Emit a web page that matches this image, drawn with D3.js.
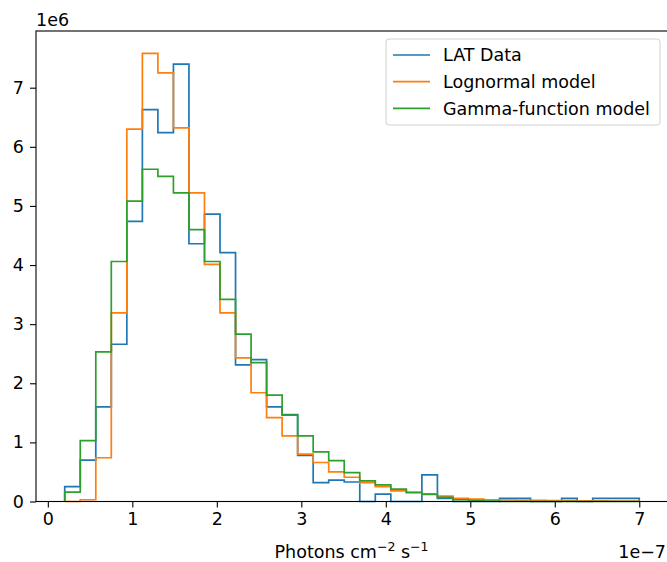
<!DOCTYPE html>
<html>
<head>
<meta charset="utf-8"/>
<title>Photon flux histogram</title>
<script src="https://cdn.jsdelivr.net/npm/d3@7"></script>
<style>
  body { margin: 0; background: #fff; }
  svg text { font-family: "DejaVu Sans", sans-serif; fill: #000; }
</style>
</head>
<body>
<div id="chart"></div>
<script>
// histogram bins, flux in units of 1e-7 photons cm^-2 s^-1
var binStart = 0.2, binEnd = 7.0, binCount = 37;
var binEdges = d3.range(binCount + 1).map(function(i) { return binStart + i * (binEnd - binStart) / binCount; });

// counts per bin, in units of 1e6
var latData = [0.25, 0.70, 1.60, 2.66, 4.74, 6.63, 6.24, 7.40, 4.36, 4.86,
               4.21, 2.31, 2.40, 1.60, 1.47, 0.78, 0.32, 0.36, 0.33, 0,
               0.125, 0, 0, 0.45, 0.054, 0, 0, 0, 0.054, 0.054,
               0, 0, 0.054, 0, 0.054, 0.054, 0.054];
var lognormal = [0, 0.03, 0.74, 3.19, 6.30, 7.58, 7.25, 6.32, 5.22, 4.01,
                 3.19, 2.43, 1.84, 1.42, 1.11, 0.80, 0.66, 0.50, 0.41, 0.32,
                 0.25, 0.18, 0.15, 0.13, 0.09, 0.055, 0.04, 0.03, 0.025, 0.02,
                 0.02, 0.015, 0.015, 0.012, 0.01, 0.008, 0.006];
var gammaModel = [0.16, 1.03, 2.53, 4.06, 5.08, 5.62, 5.50, 5.22, 4.60, 4.06,
                  3.42, 2.83, 2.35, 1.80, 1.46, 1.11, 0.84, 0.69, 0.49, 0.35,
                  0.28, 0.21, 0.155, 0.12, 0.07, 0.03, 0.015, 0.005, 0, 0,
                  0, 0, 0, 0, 0, 0, 0];

var seriesNames = ["LAT Data", "Lognormal model", "Gamma-function model"];
var seriesColors = ["#1f77b4", "#ff7f0e", "#2ca02c"];
var xTicks = [0, 1, 2, 3, 4, 5, 6, 7];
var yTicks = [0, 1, 2, 3, 4, 5, 6, 7];

var width = 667, height = 562;
var plotLeft = 36, plotTop = 31, plotRight = 668, plotBottom = 501.5;
var fontSize = 17.5;

var svg = d3.select("#chart").append("svg")
  .attr("width", width).attr("height", height);

var x = d3.scaleLinear().domain([-0.14, 7.34]).range([plotLeft, plotRight]);
var yMax = d3.max([latData, lognormal, gammaModel], function(s) { return d3.max(s); }) * 1.05;
var y = d3.scaleLinear().domain([0, yMax]).range([plotBottom, plotTop]);

// step outline for a histogram, like histtype='step'
function stepPoints(values) {
  var pts = [[binEdges[0], 0]];
  values.forEach(function(v, i) {
    pts.push([binEdges[i], v]);
    pts.push([binEdges[i + 1], v]);
  });
  pts.push([binEdges[binEdges.length - 1], 0]);
  return pts;
}

var line = d3.line()
  .x(function(d) { return x(d[0]); })
  .y(function(d) { return y(d[1]); });

[latData, lognormal, gammaModel].forEach(function(s, i) {
  svg.append("path")
    .attr("d", line(stepPoints(s)))
    .attr("fill", "none")
    .attr("stroke", seriesColors[i])
    .attr("stroke-width", 1.7)
    .attr("stroke-linejoin", "miter");
});

// axes
var xAxis = d3.axisBottom(x).tickValues(xTicks).tickSize(6).tickPadding(5)
  .tickFormat(d3.format("d"));
var gx = svg.append("g").attr("transform", "translate(0," + plotBottom + ")").call(xAxis);
gx.select(".domain").remove();

var yAxis = d3.axisLeft(y).tickValues(yTicks).tickSize(6).tickPadding(6)
  .tickFormat(d3.format("d"));
var gy = svg.append("g").attr("transform", "translate(" + plotLeft + ",0)").call(yAxis);
gy.select(".domain").remove();

[gx, gy].forEach(function(g) {
  g.selectAll(".tick line").attr("stroke", "#000").attr("stroke-width", 1.1);
  g.selectAll(".tick text").attr("font-size", fontSize).attr("font-family", "DejaVu Sans").attr("fill", "#000");
});

// spines (right one falls just outside the picture)
svg.append("rect")
  .attr("x", plotLeft).attr("y", plotTop)
  .attr("width", plotRight - plotLeft).attr("height", plotBottom - plotTop)
  .attr("fill", "none").attr("stroke", "#000").attr("stroke-width", 1.1);

// offset labels
svg.append("text").attr("x", plotLeft).attr("y", 26).attr("font-size", fontSize).text("1e6");
svg.append("text").attr("x", 666).attr("y", 558).attr("text-anchor", "end")
  .attr("font-size", fontSize).text("1e\u22127");

// x label with superscripts
var xl = svg.append("text").attr("x", (plotLeft + 667) / 2).attr("y", 558)
  .attr("text-anchor", "middle").attr("font-size", fontSize);
xl.append("tspan").text("Photons cm");
xl.append("tspan").attr("dy", -7).attr("font-size", 12.5).text("\u22122");
xl.append("tspan").attr("dy", 7).text(" s");
xl.append("tspan").attr("dy", -7).attr("font-size", 12.5).text("\u22121");

// legend
var lg = svg.append("g").attr("transform", "translate(386,39)");
lg.append("rect").attr("width", 274).attr("height", 86).attr("rx", 3)
  .attr("fill", "#fff").attr("fill-opacity", 0.8)
  .attr("stroke", "#d0d0d0").attr("stroke-width", 1);
seriesNames.forEach(function(name, i) {
  var cy = 16 + i * 26.7;
  lg.append("line").attr("x1", 7).attr("x2", 44).attr("y1", cy).attr("y2", cy)
    .attr("stroke", seriesColors[i]).attr("stroke-width", 1.7);
  lg.append("text").attr("x", 57).attr("y", cy).attr("dy", "0.36em")
    .attr("font-size", fontSize).text(name);
});
</script>
</body>
</html>
